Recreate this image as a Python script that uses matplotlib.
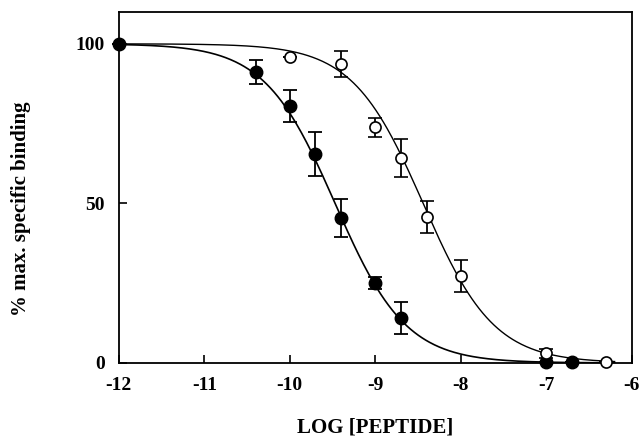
import matplotlib.pyplot as plt
import numpy as np

# filled circles
x_filled = [-12.0, -10.4, -10.0, -9.7, -9.4, -9.0, -8.7, -7.0, -6.7]
y_filled = [100.0, 91.2, 80.5, 65.5, 45.5, 25.0, 14.2, 0.3, 0.4]
e_filled = [0.0, 3.8, 5.0, 7.0, 6.0, 1.8, 5.0, 0.0, 0.0]

# open circles
x_open = [-10.0, -9.4, -9.0, -8.7, -8.4, -8.0, -7.0, -6.3]
y_open = [96.0, 93.7, 73.8, 64.3, 45.8, 27.3, 3.0, 0.3]
e_open = [0.0, 4.0, 3.0, 6.0, 5.0, 5.0, 1.5, 0.0]

# fitted logistic parameters (log IC50, hill slope)
fit_filled = (-9.47, 1.05)
fit_open = (-8.44, 1.05)

def logistic(x, p):
    return 100.0 / (1.0 + 10 ** ((x - p[0]) * p[1]))

plt.rcParams['font.family'] = ['Liberation Serif', 'DejaVu Serif']
plt.rcParams['font.weight'] = 'bold'
plt.rcParams['axes.unicode_minus'] = False

fig = plt.figure(figsize=(6.42, 4.41), dpi=100)
ax = fig.add_axes([0.185, 0.177, 0.799, 0.796])

xs = np.linspace(-12, -6.2, 400)
ax.plot(xs, logistic(xs, fit_filled), color='black', lw=1.2)
ax.plot(xs, logistic(xs, fit_open), color='black', lw=1.0)

ax.errorbar(x_filled, y_filled, yerr=e_filled, fmt='o', color='black',
            ms=9, capsize=5, elinewidth=1.3, capthick=1.3, clip_on=False, zorder=3)
ax.errorbar(x_open, y_open, yerr=e_open, fmt='o', color='black', mfc='white',
            mec='black', mew=1.2, ms=8, capsize=5, elinewidth=1.3, capthick=1.3,
            clip_on=False, zorder=3)

ax.set_xlim(-12, -6)
ax.set_ylim(0, 110)
ax.set_xticks([-12, -11, -10, -9, -8, -7, -6])
ax.set_yticks([0, 50, 100])
ax.tick_params(direction='in', length=6, width=1.2, labelsize=14, pad=10)
for sp in ax.spines.values():
    sp.set_linewidth(1.3)

ax.set_xlabel('LOG [PEPTIDE]', fontsize=15, fontweight='bold')
ax.xaxis.set_label_coords(0.5, -0.155)
ax.set_ylabel('% max. specific binding', fontsize=15, fontweight='bold')
ax.yaxis.set_label_coords(-0.172, 0.44)

fig.savefig('out.png', dpi=100)
